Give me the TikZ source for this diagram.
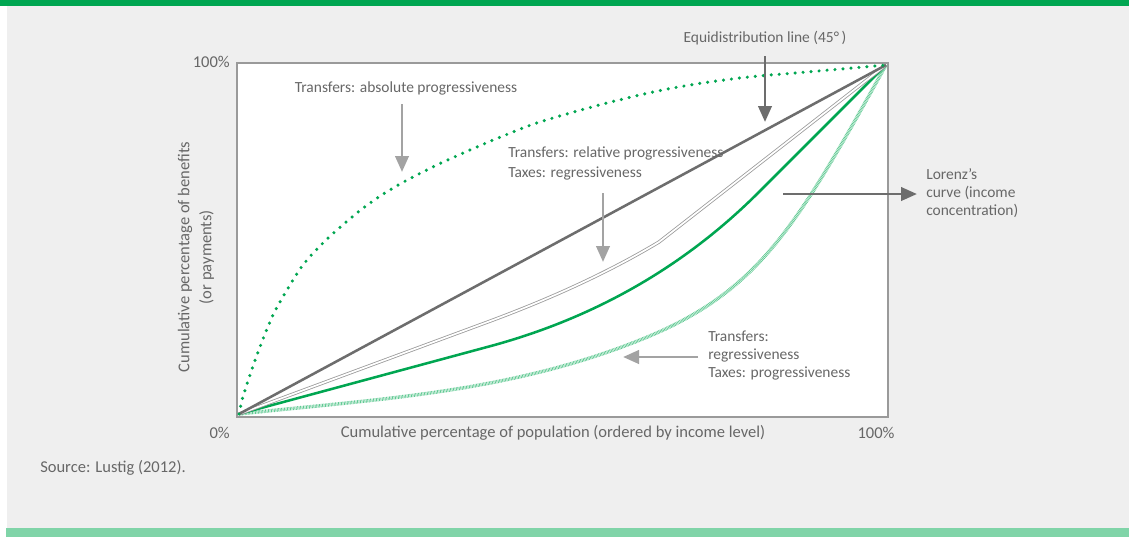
\documentclass[tikz,border=0pt]{standalone}
\usepackage{fontspec}
\setmainfont{Carlito}
\usetikzlibrary{arrows.meta}
\definecolor{bggray}{HTML}{EFEFEF}
\definecolor{topgreen}{HTML}{00A651}
\definecolor{botgreen}{HTML}{80D4A8}
\definecolor{dkgray}{HTML}{6D6D6D}
\definecolor{ltgray}{HTML}{A3A3A3}
\definecolor{framegray}{HTML}{9A9A9A}
\definecolor{curvegreen}{HTML}{00A651}
\definecolor{palegreen}{HTML}{5FC992}
\definecolor{txtgray}{HTML}{676767}
\begin{document}
\begin{tikzpicture}[x=0.75pt,y=-0.75pt,
  lbl/.style={font=\fontsize{11.6}{13.5}\selectfont, text=txtgray, inner sep=0pt},
  axlbl/.style={font=\fontsize{12.4}{16.5}\selectfont, text=txtgray, inner sep=0pt},
  darr/.style={draw=dkgray, line width=2.2pt, -{Triangle[width=10pt,length=12pt]}},
  larr/.style={draw=ltgray, line width=2.2pt, -{Triangle[width=10pt,length=12pt]}},
  equiline/.style={draw=dkgray, line width=1.9pt},
  dotcurve/.style={draw=curvegreen, line width=2.6pt, line cap=round, dash pattern=on 0pt off 6pt},
  dblcurve/.style={draw=framegray, double=white, double distance=1.3pt, line width=0.6pt},
  lorenzcurve/.style={draw=curvegreen, line width=1.9pt},
  hatchcurve/.style={draw=palegreen, line width=2.6pt, dash pattern=on 0.55pt off 0.55pt}]
\useasboundingbox (0,0) rectangle (1129,537);
% background bands
\fill[white] (0,0) rectangle (1129,537);
\fill[bggray] (7,6) rectangle (1129,528);
\fill[topgreen] (0,0) rectangle (1129,6);
\fill[botgreen] (6,528) rectangle (1129,537);
% plot frame
\node[draw=framegray, line width=1.1pt, fill=white, minimum width=651*0.75pt, minimum height=354*0.75pt, inner sep=0pt] (frame) at (562.5,240) {};
\coordinate (O) at (239,414);
\coordinate (T) at (886,65);
% curves
\draw[hatchcurve] (O) .. controls (373,399.3) and (506,393.6) .. (640,340) .. controls (760,292) and (796,227) .. (T);
\draw[lorenzcurve] (O) -- (489,346.5) .. controls (594.3,318.2) and (684.3,266.7) .. (759,192) -- (T);
\draw[dblcurve] (O) -- (489,321.5) .. controls (554.3,297.3) and (611,270.8) .. (659,242) -- (T);
\draw[equiline] (O) -- (T);
\draw[dotcurve] plot[smooth, tension=0.6] coordinates {(239,414) (242,400) (246,387) (251,372) (257,355) (265,334) (274,313) (287,290) (303,265) (323,243) (345,223) (370,203) (400,184) (437,165) (470,150) (503,136) (540,122) (607,103) (673,88) (740,78) (807,72) (886,65)};
% axis labels
\node[axlbl, anchor=east] (y100) at (230,62) {100\%};
\node[axlbl, anchor=east] (x0) at (230,433) {0\%};
\node[axlbl] (x100) at (876,433) {100\%};
\node[axlbl] (xlab) at (553,433) {Cumulative percentage of population (ordered by income level)};
\node[axlbl, rotate=90, align=center] (ylab) at (196,257) {Cumulative percentage of benefits\\(or payments)};
\node[axlbl, anchor=west] (src) at (40,468) {Source: Lustig (2012).};
% annotations
\node[lbl] (abs) at (406,88) {Transfers: absolute progressiveness};
\node[lbl] (equi) at (765,38) {Equidistribution line (45°\,)};
\node[lbl, align=left, anchor=west, font=\fontsize{11.6}{15}\selectfont] (rel) at (508,163) {Transfers: relative progressiveness\\Taxes: regressiveness};
\node[lbl, align=left, anchor=west] (lor) at (926,193) {Lorenz’s\\curve (income\\concentration)};
\node[lbl, align=left, anchor=west] (reg) at (708,356) {Transfers:\\regressiveness\\Taxes: progressiveness};
% arrows
\coordinate (absS) at (402,104);
\coordinate (absE) at (402,172);
\coordinate (equiS) at (765,56);
\coordinate (equiE) at (765,122);
\coordinate (relS) at (603,193);
\coordinate (relE) at (603,262);
\coordinate (lorS) at (783,194);
\coordinate (lorE) at (917,194);
\coordinate (regS) at (698,357);
\coordinate (regE) at (623,357);
\draw[larr] (absS) -- (absE);
\draw[darr] (equiS) -- (equiE);
\draw[larr] (relS) -- (relE);
\draw[darr] (lorS) -- (lorE);
\draw[larr] (regS) -- (regE);
\end{tikzpicture}
\end{document}
